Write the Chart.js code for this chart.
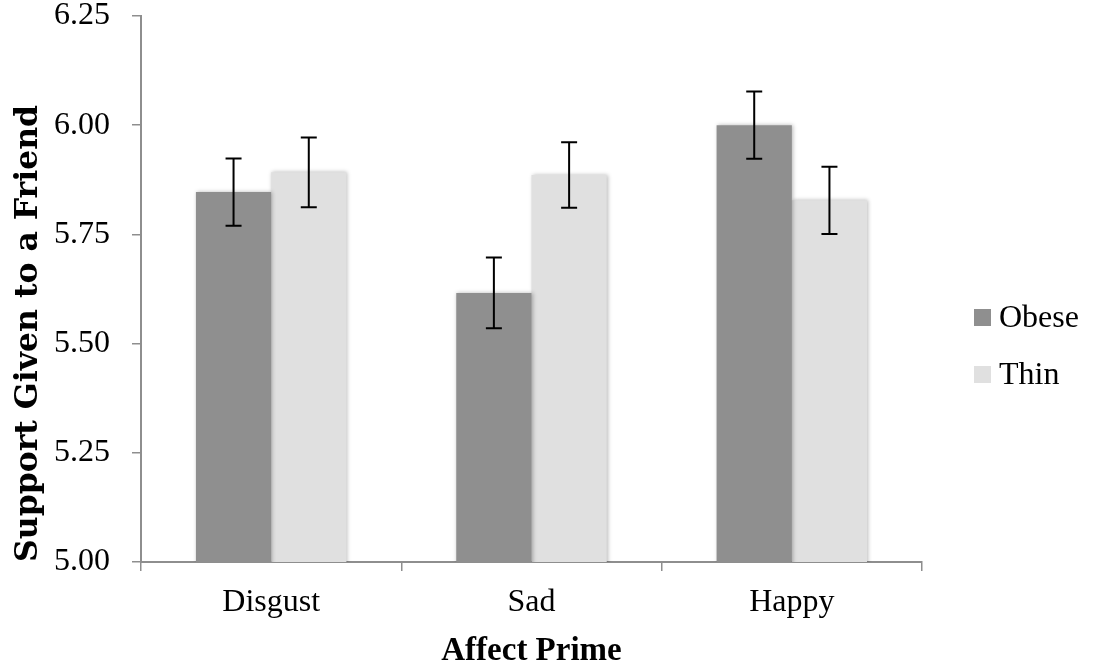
<!DOCTYPE html>
<html>
<head>
<meta charset="utf-8">
<script src="https://cdn.jsdelivr.net/npm/chart.js@4"></script>
<style>
  html, body { margin: 0; padding: 0; background: #ffffff; }
  #wrap { width: 1093px; height: 671px; position: relative; }
</style>
</head>
<body>
<div id="wrap"><canvas id="c" width="1093" height="671"></canvas></div>
<script>
// ---- data ----
const categories = ['Disgust', 'Sad', 'Happy'];
const seriesNames = ['Obese', 'Thin'];
const obeseValues = [5.847, 5.616, 6.000];
const thinValues = [5.892, 5.886, 5.828];
const obeseErrors = [0.077, 0.081, 0.077];
const thinErrors = [0.080, 0.075, 0.077];
const yTicks = [5.00, 5.25, 5.50, 5.75, 6.00, 6.25];

const SERIF = '"Liberation Serif", "Times New Roman", serif';
const AXIS_GREY = '#8e8e8e';

// error bar plugin: draws whiskers via the y scale
const errorBars = {
  id: 'errorBars',
  afterDatasetsDraw(chart) {
    const ctx = chart.ctx;
    const y = chart.scales.y;
    ctx.save();
    ctx.strokeStyle = '#000000';
    ctx.lineWidth = 2;
    chart.data.datasets.forEach((ds, i) => {
      const meta = chart.getDatasetMeta(i);
      meta.data.forEach((bar, j) => {
        const v = ds.data[j], e = ds.errors[j];
        const top = y.getPixelForValue(v + e);
        const bot = y.getPixelForValue(v - e);
        const cap = 8;
        ctx.beginPath();
        ctx.moveTo(bar.x, top); ctx.lineTo(bar.x, bot);
        ctx.moveTo(bar.x - cap, top); ctx.lineTo(bar.x + cap, top);
        ctx.moveTo(bar.x - cap, bot); ctx.lineTo(bar.x + cap, bot);
        ctx.stroke();
      });
    });
    ctx.restore();
  }
};

// subtle drop shadow behind bars
const barShadow = {
  id: 'barShadow',
  beforeDatasetsDraw(chart) {
    const ctx = chart.ctx;
    ctx.save();
    ctx.shadowColor = 'rgba(0,0,0,0.28)';
    ctx.shadowBlur = 4;
    ctx.shadowOffsetX = 1;
    ctx.shadowOffsetY = 0;
  },
  afterDatasetsDraw(chart) {
    chart.ctx.restore();
  }
};

// legend drawn to the right of the plot
const sideLegend = {
  id: 'sideLegend',
  afterDraw(chart) {
    const ctx = chart.ctx;
    const area = chart.chartArea;
    const box = 17, gap = 57;
    const x0 = area.right + 52;
    const n = chart.data.datasets.length;
    const cy0 = (area.top + area.bottom) / 2 + 57 - gap * (n - 1) / 2;
    ctx.save();
    ctx.font = '32px ' + SERIF;
    ctx.textBaseline = 'middle';
    ctx.textAlign = 'left';
    chart.data.datasets.forEach((ds, i) => {
      const cy = cy0 + i * gap;
      ctx.fillStyle = ds.backgroundColor;
      ctx.fillRect(x0, cy - box / 2, box, box);
      ctx.fillStyle = '#000000';
      ctx.fillText(ds.label, x0 + box + 8, cy + 1);
    });
    ctx.restore();
  }
};

new Chart(document.getElementById('c'), {
  type: 'bar',
  data: {
    labels: categories,
    datasets: [
      { label: seriesNames[0], data: obeseValues, errors: obeseErrors, backgroundColor: '#8f8f8f' },
      { label: seriesNames[1], data: thinValues, errors: thinErrors, backgroundColor: '#e0e0e0' }
    ]
  },
  options: {
    responsive: false,
    animation: false,
    devicePixelRatio: 1,
    layout: { padding: { top: 16, right: 171, left: 0, bottom: 0 } },
    datasets: { bar: { categoryPercentage: 0.578, barPercentage: 1.0 } },
    plugins: { legend: { display: false }, tooltip: { enabled: false } },
    scales: {
      x: {
        grid: { display: true, drawOnChartArea: false, drawTicks: true, tickLength: 9, color: AXIS_GREY, lineWidth: 1.5, offset: true },
        border: { display: true, color: AXIS_GREY, width: 2 },
        ticks: { color: '#000000', font: { family: SERIF, size: 32 }, padding: 12 },
        title: { display: true, text: 'Affect Prime', color: '#000000', font: { family: SERIF, size: 33, weight: 'bold' }, padding: { top: 4, bottom: 0 } },
        afterFit(scale) { scale.height = 109; scale.paddingLeft = 0; scale.paddingRight = 0; }
      },
      y: {
        min: 5, max: 6.25,
        afterBuildTicks(scale) { scale.ticks = yTicks.map(v => ({ value: v })); },
        grid: { display: true, drawOnChartArea: false, drawTicks: true, tickLength: 9, color: AXIS_GREY, lineWidth: 1.5 },
        border: { display: true, color: AXIS_GREY, width: 2 },
        ticks: { color: '#000000', font: { family: SERIF, size: 32, lineHeight: 1.0 }, padding: 22, callback: v => Number(v).toFixed(2) },
        title: { display: true, align: 'start', text: 'Support Given to a Friend', color: '#000000', font: { family: '"DejaVu Serif", serif', size: 31.5, weight: 'bold' }, padding: { top: 10, bottom: 0 } },
        afterFit(scale) { scale.width = 141; scale.paddingTop = 0; scale.paddingBottom = 0; }
      }
    }
  },
  plugins: [barShadow, errorBars, sideLegend]
});
</script>
</body>
</html>
